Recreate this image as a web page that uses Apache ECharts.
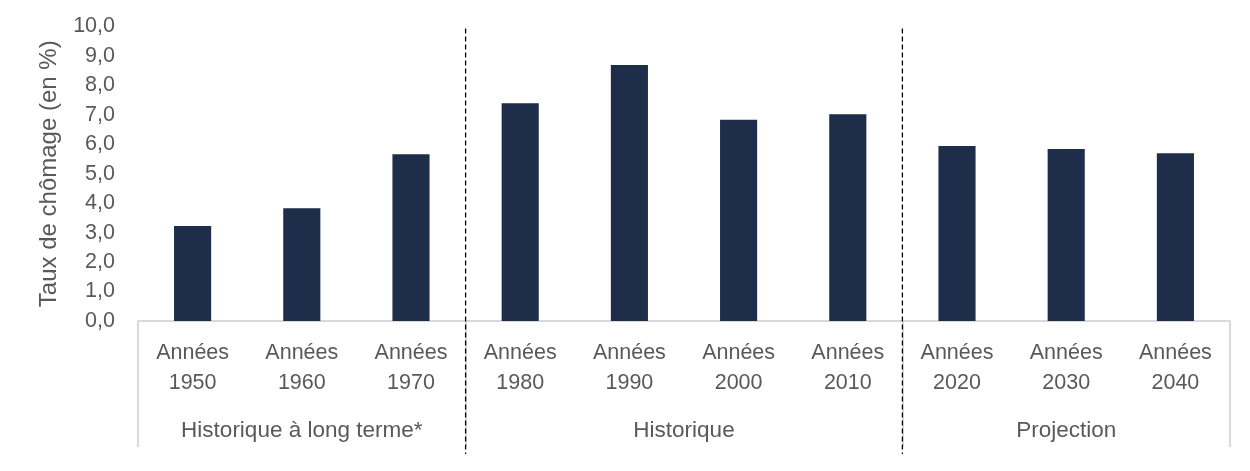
<!DOCTYPE html>
<html>
<head>
<meta charset="utf-8">
<script src="https://cdn.jsdelivr.net/npm/echarts@6/dist/echarts.min.js"></script>
<style>html,body{margin:0;padding:0;background:#fff;}#c{width:1250px;height:471px;}</style>
</head>
<body>
<div id="c"></div>
<script>
const categories = ['Années\n1950','Années\n1960','Années\n1970','Années\n1980','Années\n1990','Années\n2000','Années\n2010','Années\n2020','Années\n2030','Années\n2040'];
const values = [3.23, 3.83, 5.66, 7.39, 8.69, 6.83, 7.02, 5.94, 5.84, 5.70];
const groupNames = ['Historique à long terme*', 'Historique', 'Projection'];
const groupSizes = [3, 4, 3];
const yMin = 0, yMax = 10, yInterval = 1;
const yTitle = 'Taux de chômage (en %)';

// build half-step group axis
const halfCount = categories.length * 2 + 1;
const groupAxisData = new Array(halfCount).fill('');
const boundaries = [0];
let acc = 0;
groupSizes.forEach((s, i) => {
  const start = acc * 2; acc += s; const end = acc * 2;
  boundaries.push(end);
  groupAxisData[(start + end) / 2] = groupNames[i];
});
const dashedAt = boundaries.slice(1, -1);

const FONT = 'Liberation Sans';
const TXT = '#595959';
const chart = echarts.init(document.getElementById('c'));
chart.setOption({
  animation: false,
  grid: { left: 138, right: 20, top: 26.5, bottom: 150, containLabel: false },
  xAxis: [{
    type: 'category', data: categories, position: 'bottom',
    axisLine: { show: true, lineStyle: { color: '#d9d9d9', width: 2 } },
    axisTick: { show: false },
    axisLabel: { interval: 0, margin: 17, color: TXT, fontFamily: FONT, fontSize: 21.5, lineHeight: 30 }
  }, {
    type: 'category', data: groupAxisData, position: 'bottom', boundaryGap: false,
    axisLine: { show: false },
    axisTick: { show: true, length: 126, interval: (i) => boundaries.indexOf(i) >= 0, lineStyle: { color: '#d9d9d9', width: 2 } },
    axisLabel: { interval: (i, v) => v !== '', margin: 98, color: TXT, fontFamily: FONT, fontSize: 22.5 }
  }],
  yAxis: {
    type: 'value', min: yMin, max: yMax, interval: yInterval,
    name: yTitle, nameLocation: 'middle', nameGap: 77, nameRotate: 90,
    nameTextStyle: { color: TXT, fontFamily: FONT, fontSize: 24 },
    axisLine: { show: false }, axisTick: { show: false }, splitLine: { show: false },
    axisLabel: { margin: 23, color: TXT, fontFamily: FONT, fontSize: 21.5, formatter: v => v.toFixed(1).replace('.', ',') }
  },
  series: [{
    type: 'bar', data: values, barWidth: '34%', itemStyle: { color: '#1e2d4a' }
  }]
});

const yTop = chart.convertToPixel({ yAxisIndex: 0 }, yMax);
const yBot = chart.convertToPixel({ yAxisIndex: 0 }, yMin);
chart.setOption({
  graphic: dashedAt.map(k => {
    const x = chart.convertToPixel({ xAxisIndex: 1 }, k);
    return {
      type: 'line', silent: true, z: 100,
      shape: { x1: x, y1: yTop + 2, x2: x, y2: yBot + 133 },
      style: { stroke: '#000', lineWidth: 1.3, lineDash: [5, 3] }
    };
  })
});
</script>
</body>
</html>
